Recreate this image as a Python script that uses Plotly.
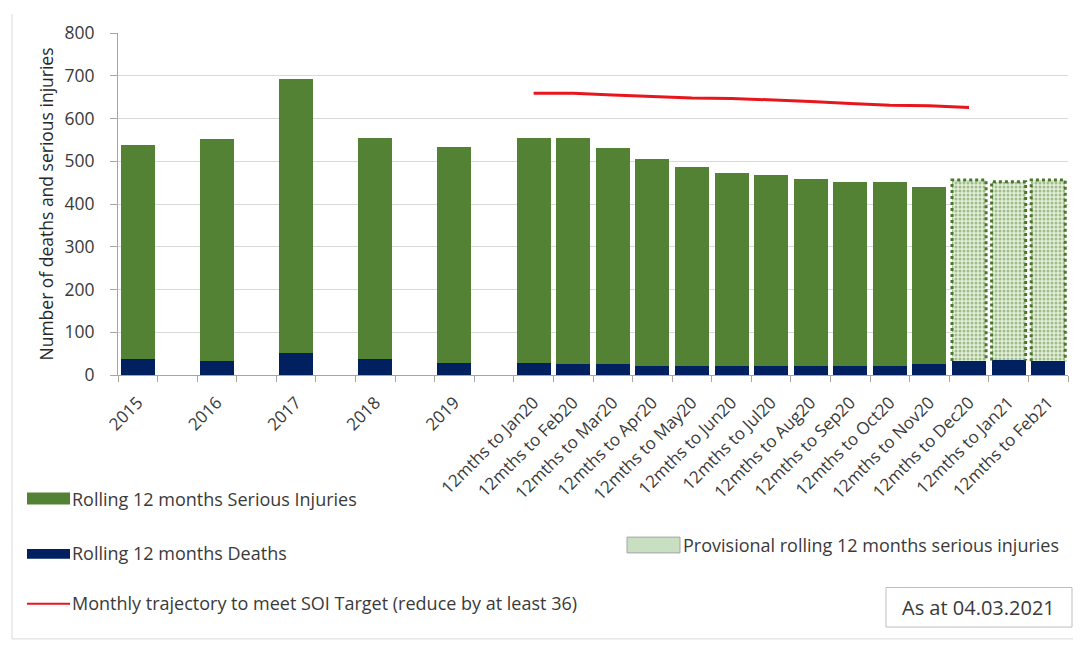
import plotly.graph_objects as go

# ---------------- data ----------------
labels = ["2015", "2016", "2017", "2018", "2019",
          "12mths to Jan20", "12mths to Feb20", "12mths to Mar20", "12mths to Apr20",
          "12mths to May20", "12mths to Jun20", "12mths to Jul20", "12mths to Aug20",
          "12mths to Sep20", "12mths to Oct20", "12mths to Nov20",
          "12mths to Dec20", "12mths to Jan21", "12mths to Feb21"]
deaths = [37, 32, 52, 37, 28,
          28, 25, 25, 21, 21, 21, 21, 21, 21, 21, 25,
          33, 34, 32]
serious_injuries = [501, 519, 641, 517, 506,
                    526, 529, 505, 485, 466, 451, 446, 438, 431, 431, 414,
                    423, 418, 424]
n_confirmed = 16          # last three columns are provisional
trajectory_labels = labels[5:17]   # 12mths to Jan20 ... 12mths to Dec20
trajectory = [659, 659, 655, 651, 648, 647, 644, 640, 635, 631, 630, 626]

# ---------------- layout helpers ----------------
OFF = 8                      # page body margin of the browser
SW, SH = 1081, 646           # screenshot size
W, H = SW - OFF, SH - OFF
L, R, T, B = 118, 1068, 29, 375   # plot area in screenshot pixels
def fx(px):
    return (px - L) / (R - L)
def fy(py):
    return (B - py) / (B - T)

# category slots: years separated by an empty slot, then the monthly columns
x_pos = [2 * i for i in range(5)] + list(range(10, 10 + len(labels) - 5))
pos_of = dict(zip(labels, x_pos))
BW = 0.86

GREEN = "#548235"
NAVY = "#002060"
RED = "#e8161c"
FONT = "Open Sans"
TXT = "#3a3a3a"
AX = "#a6a6a6"
FS = 17

fig = go.Figure()

fig.add_trace(go.Bar(x=x_pos, y=deaths, width=BW, marker=dict(color=NAVY, line=dict(width=0)),
                     name="Rolling 12 months Deaths", showlegend=False))
fig.add_trace(go.Bar(x=x_pos[:n_confirmed], y=serious_injuries[:n_confirmed], width=BW,
                     marker=dict(color=GREEN, line=dict(width=0)),
                     name="Rolling 12 months Serious Injuries", showlegend=False))
fig.add_trace(go.Bar(x=x_pos[n_confirmed:], y=serious_injuries[n_confirmed:], width=BW,
                     marker=dict(color="#e2efd9", line=dict(width=0),
                                 pattern=dict(shape=".", bgcolor="#e2efd9", fgcolor="#5d8a3c",
                                              size=4, solidity=0.45)),
                     name="Provisional rolling 12 months serious injuries", showlegend=False))

# dotted outline of the provisional columns
ox, oy = [], []
for xp, d, s in zip(x_pos[n_confirmed:], deaths[n_confirmed:], serious_injuries[n_confirmed:]):
    ox += [xp - BW / 2, xp - BW / 2, xp + BW / 2, xp + BW / 2, None]
    oy += [d, d + s, d + s, d, None]
fig.add_trace(go.Scatter(x=ox, y=oy, mode="lines", line=dict(color="#4a752b", width=3, dash="dot"),
                         hoverinfo="skip", showlegend=False))

fig.add_trace(go.Scatter(x=[pos_of[c] for c in trajectory_labels], y=trajectory, mode="lines",
                         line=dict(color=RED, width=3),
                         name="Monthly trajectory to meet SOI Target (reduce by at least 36)",
                         showlegend=False))

fig.update_layout(
    width=W, height=H, barmode="stack", bargap=0,
    margin=dict(l=L - OFF, r=SW - R, t=T - OFF, b=SH - B),
    paper_bgcolor="white", plot_bgcolor="white",
    font=dict(family=FONT, size=FS, color=TXT),
    showlegend=False,
)
fig.update_xaxes(
    range=[-0.5, x_pos[-1] + 0.5], tickmode="array", tickvals=x_pos, ticktext=labels,
    tickangle=-45, ticks="", showgrid=False, zeroline=False,
    showline=True, linecolor=AX, linewidth=1, ticklabelstandoff=10,
    tickfont=dict(family=FONT, size=FS, color=TXT),
    minor=dict(tickmode="array", tickvals=[v - 0.5 for v in range(x_pos[-1] + 2)],
               ticks="outside", ticklen=6, tickcolor=AX, tickwidth=1, showgrid=False),
)
fig.update_yaxes(
    range=[0, 800], dtick=100, showgrid=True, gridcolor="#d9d9d9", gridwidth=1,
    zeroline=False, showline=True, linecolor=AX, linewidth=1,
    ticks="outside", ticklen=7, tickcolor=AX, ticklabelstandoff=12,
    tickfont=dict(family=FONT, size=17.5, color=TXT),
    title=dict(text="Number of deaths and serious injuries", standoff=6,
               font=dict(family=FONT, size=17.5, color="#262626")),
)

shapes = []
def rect(x0, y0, x1, y1, fill, line_color=None, lw=0):
    shapes.append(dict(type="rect", xref="paper", yref="paper",
                       x0=fx(x0), x1=fx(x1), y0=fy(y0), y1=fy(y1),
                       fillcolor=fill, line=dict(color=line_color or fill, width=lw), layer="above"))
def line(x0, y0, x1, y1, color, w):
    shapes.append(dict(type="line", xref="paper", yref="paper",
                       x0=fx(x0), x1=fx(x1), y0=fy(y0), y1=fy(y1),
                       line=dict(color=color, width=w), layer="above"))

# outer chart border (left and bottom visible)
line(12, 10, 12, 642, "#d9d9d9", 1)
line(12, 642, 1081, 642, "#d9d9d9", 1)

# legend swatches
rect(27, 494, 70, 506, GREEN)
rect(27, 551, 70, 561, NAVY)
line(27, 606.5, 70, 606.5, RED, 2)
rect(627, 539, 680, 555, "#c9dfc2", "#a5a5a5", 1)
# "As at" box
rect(886, 590, 1072, 630, "rgba(0,0,0,0)", "#bfbfbf", 1)

annotations = []
def text(t, px, py, anchor="left", size=18):
    annotations.append(dict(text=t, xref="paper", yref="paper", x=fx(px), y=fy(py),
                            xanchor=anchor, yanchor="middle", showarrow=False,
                            font=dict(family=FONT, size=size, color=TXT)))

text("Rolling 12 months Serious Injuries", 70, 500)
text("Rolling 12 months Deaths", 70, 555)
text("Monthly trajectory to meet SOI Target (reduce by at least 36)", 70, 606)
text("Provisional rolling 12 months serious injuries", 681, 547)
text("As at 04.03.2021", 978, 610, "center", size=20)

fig.update_layout(shapes=shapes, annotations=annotations)

fig.write_html("out.html")
